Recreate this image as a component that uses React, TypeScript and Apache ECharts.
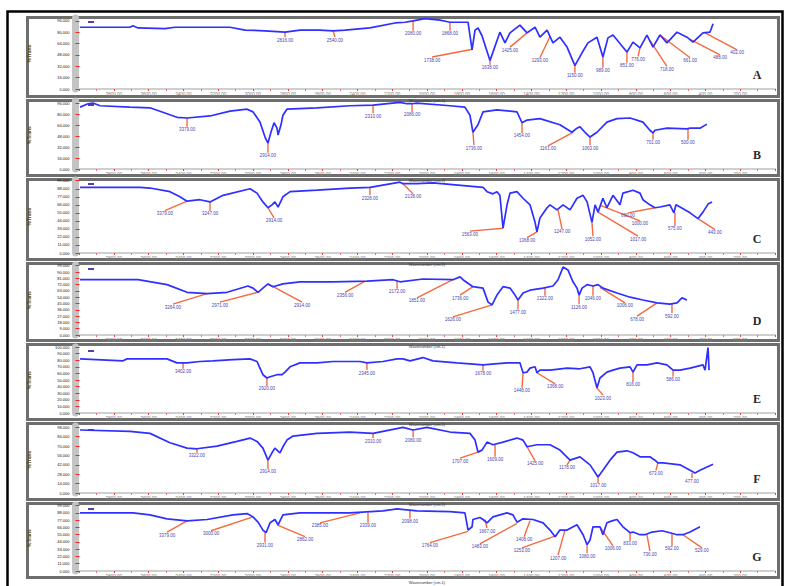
import React, { useEffect, useRef } from "react";
import * as echarts from "echarts";

// ---------- data ----------
const panelLetters = ["A", "B", "C", "D", "E", "F", "G"];
const yTickSteps = [16, 16, 11, 9, 10, 14, 11];
const xTickStep = 200;
const xAxisName = "Wavenumber (cm-1)";
const yAxisName = "%Trans";

const specA = [[3995,87],[3707,87],[3690,89],[3661,86],[3506,85],[3448,87],[3132,87],[3046,83],[2931,82],[2816,80],[2730,83],[2615,83],[2540,82],[2471,83],[2328,86],[2184,93],[2126,94],[2080,96],[2012,99],[1925,97],[1868,94],[1764,94],[1741,55],[1724,83],[1707,86],[1684,75],[1638,40],[1581,80],[1552,65],[1523,79],[1466,90],[1425,79],[1379,87],[1351,73],[1310,83],[1276,65],[1236,73],[1195,59],[1150,33],[1109,51],[1075,65],[1023,73],[989,45],[960,72],[931,76],[851,52],[816,66],[776,58],[736,76],[701,59],[661,76],[621,65],[563,80],[506,73],[471,66],[414,79],[374,80],[356,92]];
const peaksA = [[2816,80,2816,73],[2540,82,2529,73],[2080,96,2080,82],[1868,94,1868,82],[1738,56,1971,45],[1638,40,1638,34],[1425,79,1523,59],[1293,74,1351,44],[1150,33,1150,23],[989,45,989,30],[851,52,851,37],[776,58,787,46],[718,68,621,32],[661,76,488,44],[488,70,316,48],[402,79,218,55]];

const specB = [[3994,91],[3948,96],[3920,97],[3879,93],[3707,91],[3592,90],[3437,76],[3379,75],[3247,78],[3132,85],[3034,88],[3000,84],[2960,69],[2931,47],[2914,38],[2897,54],[2879,68],[2862,60],[2856,50],[2839,65],[2828,79],[2805,88],[2632,90],[2443,93],[2310,94],[2155,98],[2115,96],[2086,96],[2058,97],[1868,93],[1782,91],[1753,79],[1736,54],[1707,65],[1678,84],[1598,87],[1483,84],[1454,68],[1425,72],[1351,74],[1236,65],[1167,54],[1138,60],[1121,62],[1092,54],[1063,47],[1023,54],[966,69],[908,74],[833,75],[759,69],[719,57],[701,53],[690,57],[621,60],[506,59],[488,60],[431,60],[391,66]];
const peaksB = [[3379,75,3379,62],[2914,38,2914,24],[2310,94,2310,82],[2086,96,2086,84],[1736,54,1730,35],[1454,68,1454,53],[1161,54,1305,34],[1063,47,1063,35],[701,53,701,43],[500,59,500,43]];

const specC = [[3994,90],[3649,90],[3592,89],[3477,84],[3420,77],[3379,71],[3305,73],[3247,70],[3172,79],[3017,88],[2977,82],[2943,70],[2914,62],[2891,66],[2874,70],[2856,63],[2828,77],[2787,84],[2632,86],[2443,89],[2328,90],[2155,97],[2138,95],[2058,95],[1966,96],[1678,90],[1655,84],[1621,81],[1598,84],[1581,79],[1563,34],[1540,66],[1523,82],[1483,84],[1448,75],[1408,66],[1379,42],[1368,29],[1351,48],[1310,62],[1293,66],[1253,59],[1218,66],[1178,59],[1138,75],[1103,79],[1080,70],[1052,42],[1034,66],[1017,56],[989,75],[966,62],[931,79],[891,66],[874,82],[816,86],[776,82],[759,73],[719,66],[690,62],[661,63],[604,66],[581,55],[569,66],[546,63],[488,55],[443,47],[414,56],[385,67],[362,70]];
const peaksC = [[3379,71,3506,58],[3247,70,3247,58],[2914,62,2879,48],[2328,90,2328,79],[2138,95,2080,81],[1563,34,1753,30],[1368,29,1425,21],[1247,59,1224,33],[1052,42,1046,23],[1017,56,787,23],[1000,65,776,44],[690,62,845,55],[575,55,575,37],[443,47,345,32]];

const specD = [[3994,79],[3661,79],[3494,72],[3379,61],[3264,59],[3149,61],[3029,70],[3000,67],[2971,61],[2943,67],[2914,73],[2885,69],[2828,73],[2730,76],[2540,76],[2345,77],[2195,79],[2155,76],[2023,80],[1851,79],[1810,83],[1793,79],[1736,69],[1678,67],[1649,47],[1626,43],[1598,57],[1563,69],[1523,67],[1494,57],[1477,50],[1448,60],[1408,64],[1333,67],[1276,70],[1247,79],[1218,97],[1190,93],[1161,76],[1138,67],[1126,57],[1109,67],[1080,72],[1046,70],[1017,72],[989,67],[908,60],[833,54],[759,50],[678,46],[604,44],[563,46],[535,53],[506,50]];
const peaksD = [[3264,59,3460,44],[2971,61,3190,47],[2914,73,2718,47],[2356,77,2471,61],[2172,78,2172,66],[1851,79,2058,53],[1736,69,1810,57],[1626,43,1851,26],[1477,50,1477,36],[1322,68,1322,56],[1126,57,1126,44],[1046,70,1046,56],[1006,68,862,46],[678,46,793,27],[592,44,592,31]];

const specE = [[3994,82],[3747,79],[3724,82],[3494,82],[3437,76],[3379,76],[3305,78],[3230,79],[3115,81],[3017,82],[2977,78],[2960,68],[2943,58],[2920,53],[2902,55],[2862,58],[2833,58],[2816,62],[2787,70],[2730,76],[2632,76],[2540,78],[2385,78],[2345,76],[2253,78],[2172,82],[2138,82],[2098,79],[2023,84],[1966,79],[1828,76],[1678,73],[1540,76],[1466,76],[1448,61],[1425,62],[1408,68],[1379,70],[1368,61],[1351,65],[1293,65],[1195,68],[1121,67],[1063,70],[1046,61],[1023,38],[1006,53],[966,62],[931,65],[891,68],[833,70],[816,62],[793,73],[736,73],[678,76],[621,73],[586,65],[546,65],[488,68],[414,73],[402,65],[385,99],[379,65]];
const peaksE = [[3402,76,3402,67],[2920,53,2920,41],[2345,76,2345,65],[1678,73,1678,64],[1448,61,1454,38],[1368,61,1264,44],[1023,38,989,27],[816,62,816,47],[586,65,586,55]];

const specF = [[3994,94],[3707,92],[3592,89],[3477,75],[3379,67],[3322,66],[3207,70],[3092,77],[3017,82],[2977,77],[2943,67],[2914,49],[2891,60],[2874,67],[2845,60],[2828,69],[2805,79],[2770,85],[2632,89],[2443,91],[2310,89],[2138,98],[2080,94],[2000,98],[1868,91],[1753,89],[1724,79],[1707,61],[1684,64],[1655,76],[1621,72],[1563,76],[1483,82],[1448,79],[1425,69],[1368,72],[1293,72],[1236,64],[1178,49],[1121,54],[1063,42],[1017,24],[989,34],[948,49],[908,61],[851,63],[816,60],[776,54],[719,54],[690,49],[673,45],[644,45],[546,42],[488,34],[460,30],[431,34],[356,43]];
const peaksF = [[3322,66,3322,60],[2914,49,2914,36],[2310,89,2310,82],[2080,94,2080,83],[1707,61,1810,52],[1609,72,1609,54],[1425,69,1379,48],[1178,49,1195,42],[1017,24,1017,15],[673,45,684,34],[477,30,477,22]];

const specG = [[3994,88],[3690,88],[3592,85],[3494,79],[3379,76],[3264,78],[3115,85],[3034,87],[3000,82],[2971,74],[2943,62],[2925,58],[2902,73],[2874,78],[2856,70],[2828,85],[2730,88],[2443,88],[2253,91],[2172,94],[2058,91],[1868,90],[1782,88],[1764,62],[1741,67],[1736,78],[1696,81],[1678,78],[1655,73],[1621,82],[1540,88],[1506,85],[1483,74],[1448,79],[1391,78],[1333,73],[1293,62],[1264,52],[1236,62],[1195,62],[1138,70],[1103,55],[1080,40],[1063,47],[1046,67],[1006,67],[989,55],[966,73],[937,76],[908,78],[874,67],[833,58],[816,59],[776,55],[747,55],[707,59],[650,61],[604,58],[563,55],[529,55],[488,59],[431,67]];
const peaksG = [[3379,76,3494,59],[3000,82,3241,61],[2931,58,2931,43],[2862,70,2701,52],[2385,88,2615,73],[2339,88,2339,73],[2098,91,2098,79],[1764,60,1983,43],[1667,78,1655,65],[1483,72,1696,41],[1408,76,1442,52],[1253,54,1454,35],[1207,62,1247,24],[1080,40,1080,27],[1006,67,931,38],[833,58,833,46],[736,55,719,30],[592,56,592,38],[529,55,420,35]];

const spectra = [specA, specB, specC, specD, specE, specF, specG];
const peaks = [peaksA, peaksB, peaksC, peaksD, peaksE, peaksF, peaksG];

// ---------- layout ----------
const plotTop = [18, 101, 180, 265, 347, 426, 505];
const plotH = [71, 68, 73, 70, 66, 67, 66];
const boxTop = [16, 99, 178, 262, 343, 422, 502];
const boxBot = [98, 177, 261, 342, 421, 501, 579];

export default function App() {
  const ref = useRef<HTMLDivElement>(null);
  useEffect(() => {
    if (!ref.current) return;
    const chart = echarts.init(ref.current, null, { renderer: "svg" });
    const grids: any[] = [];
    const xAxes: any[] = [];
    const yAxes: any[] = [];
    const series: any[] = [];
    const graphics: any[] = [];

    graphics.push({
      type: "rect",
      shape: { x: 7.5, y: 11.5, width: 775, height: 600 },
      style: { fill: "none", stroke: "#000", lineWidth: 2.5 },
    });

    for (let i = 0; i < 7; i++) {
      grids.push({ left: 79, right: 10, top: plotTop[i], height: plotH[i], outerBoundsMode: "none", containLabel: false });
      xAxes.push({
        gridIndex: i, type: "value", min: 0, max: 4000, inverse: true, interval: xTickStep, position: "bottom",
        axisLine: { show: true, onZero: false, lineStyle: { color: "#cfcfcf", width: 2 } },
        axisTick: { show: true, length: 2, lineStyle: { color: "#ff3a3a" } },
        minorTick: { show: true, splitNumber: 2, length: 2, lineStyle: { color: "#ff6a6a" } },
        axisLabel: { show: true, fontSize: 4.5, color: "#808080", margin: 3, showMinLabel: false, showMaxLabel: false,
          formatter: (v: number) => v.toFixed(2) },
        splitLine: { show: false },
        name: xAxisName, nameLocation: "middle", nameGap: 9,
        nameTextStyle: { fontSize: 4, color: "#333" },
      });
      yAxes.push({
        gridIndex: i, type: "value", min: 0, max: 100, interval: yTickSteps[i], offset: 3.5, position: "left",
        axisLine: { show: true, onZero: false, lineStyle: { color: "#c4c4c4", width: 7 } },
        axisTick: { show: true, inside: true, length: 4, lineStyle: { color: "#ff2020", width: 1 } },
        axisLabel: { fontSize: 4, color: "#111", margin: 6, formatter: (v: number) => v.toFixed(3) },
        splitLine: { show: false },
        name: yAxisName, nameLocation: "middle", nameRotate: 90, nameGap: 44,
        nameTextStyle: { fontSize: 5, color: "#5a4a10", fontWeight: "bold" },
      });
      series.push({
        type: "line", xAxisIndex: i, yAxisIndex: i, data: spectra[i], showSymbol: false, symbol: "none",
        lineStyle: { color: "#2f2fff", width: 1.7 }, z: 3,
      });
      series.push({
        type: "custom", xAxisIndex: i, yAxisIndex: i, data: peaks[i], clip: false, z: 2,
        encode: { x: [0, 2], y: [1, 3] },
        renderItem: (_p: any, api: any) => {
          const p = api.coord([api.value(0), api.value(1)]);
          const l = api.coord([api.value(2), api.value(3)]);
          return {
            type: "group",
            children: [
              { type: "line", shape: { x1: p[0], y1: p[1], x2: l[0], y2: l[1] }, style: { stroke: "#f46a3c", lineWidth: 1.4 } },
              { type: "text", style: { text: Number(api.value(0)).toFixed(2), x: l[0], y: l[1] + 0.5, align: "center", verticalAlign: "top", fontSize: 4.5, fill: "#4646b4" } },
            ],
          };
        },
      });
      graphics.push({
        type: "rect",
        shape: { x: 27.5, y: boxTop[i] + 1.5, width: 751, height: boxBot[i] - boxTop[i] - 3 },
        style: { fill: "none", stroke: "#6e6e6e", lineWidth: 3 },
      });
      graphics.push({
        type: "rect",
        shape: { x: 88, y: plotTop[i] + 3, width: 6, height: 2 },
        style: { fill: "#5a3aa8" },
      });
      graphics.push({
        type: "text",
        x: 757, y: plotTop[i] + plotH[i] - 14,
        style: { text: panelLetters[i], fill: "#2a2a2a", font: "bold 12px 'Liberation Serif'", align: "center", verticalAlign: "middle" },
      });
    }

    chart.setOption({
      animation: false,
      backgroundColor: "#ffffff",
      grid: grids,
      xAxis: xAxes,
      yAxis: yAxes,
      series,
      graphic: graphics,
    });
    return () => chart.dispose();
  }, []);
  return <div ref={ref} style={{ position: "fixed", left: 0, top: 0, width: 785, height: 586 }} />;
}
